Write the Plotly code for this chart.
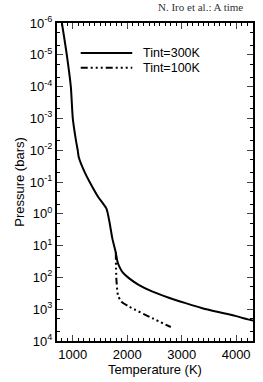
import plotly.graph_objects as go

# Tint = 300K profile
t300 = [800, 890, 964, 1000, 1055, 1090, 1110, 1218, 1310, 1455, 1618, 1673, 1727, 1790, 1820, 1855, 1920, 2036, 2218, 2455, 2764, 3073, 3364, 3673, 3982, 4218, 4310]
p300 = [1e-6, 1e-5, 1e-4, 1e-3, 10**-2.34, 1e-2, 10**-1.78, 10**-1.31, 1e-1, 10**-0.56, 10**-0.16, 10**0.25, 10**0.78,
        10**1.22, 10**1.5, 10**1.66, 10**1.85, 10**2.03, 10**2.24, 10**2.44, 10**2.64, 10**2.81, 10**2.96, 10**3.09,
        10**3.21, 10**3.32, 10**3.36]

# Tint = 100K profile
t100 = [1790, 1800, 1830, 1890, 2036, 2455, 2800]
p100 = [10**1.22, 10**2.03, 10**2.56, 10**2.76, 10**2.92, 10**3.28, 10**3.56]

ytickvals = [1e-6, 1e-5, 1e-4, 1e-3, 1e-2, 1e-1, 1e0, 1e1, 1e2, 1e3, 1e4]
yticktext = ["10<sup>-6</sup>", "10<sup>-5</sup>", "10<sup>-4</sup>", "10<sup>-3</sup>", "10<sup>-2</sup>",
             "10<sup>-1</sup>", "10<sup>0</sup>", "10<sup>1</sup>", "10<sup>2</sup>", "10<sup>3</sup>", "10<sup>4</sup>"]
xtickvals = [1000, 2000, 3000, 4000]

font = "Liberation Sans, Arial, sans-serif"
dashpat = "7px,3px,2px,3px,2px,3px,2px,3px"

fig = go.Figure()
fig.add_trace(go.Scatter(x=t300, y=p300, mode="lines", line=dict(color="black", width=2, shape="spline", smoothing=0.6),
                         name="Tint=300K", showlegend=False))
fig.add_trace(go.Scatter(x=t100, y=p100, mode="lines",
                         line=dict(color="black", width=2, dash=dashpat, shape="spline", smoothing=0.6),
                         name="Tint=100K", showlegend=False))

# legend drawn manually
fig.add_shape(type="line", xref="paper", yref="paper", x0=0.121, x1=0.384, y0=0.906, y1=0.906,
              line=dict(color="black", width=2))
fig.add_shape(type="line", xref="paper", yref="paper", x0=0.121, x1=0.384, y0=0.859, y1=0.859,
              line=dict(color="black", width=2, dash=dashpat))
fig.add_annotation(text="Tint=300K", xref="paper", yref="paper", x=0.43, y=0.906, xanchor="left",
                   yanchor="middle", showarrow=False, font=dict(family=font, size=12.5, color="black"))
fig.add_annotation(text="Tint=100K", xref="paper", yref="paper", x=0.43, y=0.859, xanchor="left",
                   yanchor="middle", showarrow=False, font=dict(family=font, size=12.5, color="black"))

# page header fragment (cut off by the page edge, as in the source)
fig.add_annotation(text="N. Iro et al.: A time", xref="paper", yref="paper",
                   x=0.505, y=1.05, xanchor="left", yanchor="middle", showarrow=False,
                   font=dict(family="Liberation Serif, Times New Roman, serif", size=11, color="#333"))

fig.update_xaxes(range=[710, 4310], tickvals=xtickvals, ticks="inside", ticklen=6, tickwidth=1.2,
                 mirror="ticks", showline=True, linecolor="black", linewidth=2, showgrid=False,
                 zeroline=False, tickfont=dict(family=font, size=13, color="black"),
                 minor=dict(ticks="inside", ticklen=3, dtick=100, tickcolor="black", showgrid=False),
                 title=dict(text="Temperature (K)", font=dict(family=font, size=13, color="black"), standoff=3))
fig.update_yaxes(type="log", range=[4, -6], tickvals=ytickvals, ticktext=yticktext, ticks="inside",
                 ticklen=6, tickwidth=1.2, mirror="ticks", showline=True, linecolor="black", linewidth=2,
                 showgrid=False, zeroline=False, tickfont=dict(family=font, size=13, color="black"),
                 minor=dict(ticks="inside", ticklen=3, dtick="D2", tickcolor="black", showgrid=False),
                 title=dict(text="Pressure (bars)", font=dict(family=font, size=13, color="black"), standoff=2))

fig.update_layout(width=263, height=382, margin=dict(l=57, r=8, t=23, b=39),
                  plot_bgcolor="white", paper_bgcolor="white", showlegend=False)

fig.write_html("out.html")
